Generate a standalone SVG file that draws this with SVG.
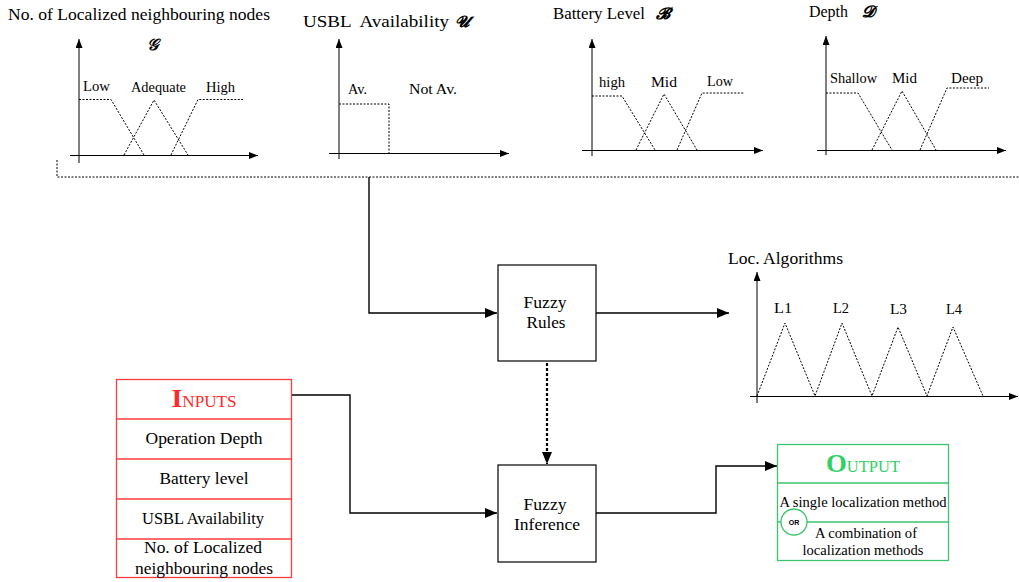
<svg xmlns="http://www.w3.org/2000/svg" width="1019" height="582" viewBox="0 0 1019 582" font-family="'Liberation Serif', 'DejaVu Serif', serif">
<defs>
<style>
text{font-family:'Liberation Serif','DejaVu Serif',serif}
.t{font-size:17px}
.l{font-size:14px}
.b{font-size:16px}
.o{font-size:14.5px}
.ax{stroke:#000;stroke-width:1;fill:none}
.dt{stroke:#000;stroke-width:1;fill:none;stroke-dasharray:2 1.5}
.cn{stroke:#000;stroke-width:1.4;fill:none}
.box{fill:#fff;stroke:#000;stroke-width:1.2}
.red{fill:#fff;stroke:#ff3b3b;stroke-width:1.3}
.grn{fill:#fff;stroke:#3cc46e;stroke-width:1.3}
.sc{font-style:italic;font-weight:bold;font-size:16px}
</style>
<marker id="ah" markerWidth="12" markerHeight="10" refX="12" refY="5" orient="auto" markerUnits="userSpaceOnUse"><path d="M0,0 L12,5 L0,10 z" fill="#000"/></marker>
<marker id="aa" markerWidth="9" markerHeight="7" refX="9" refY="3.5" orient="auto" markerUnits="userSpaceOnUse"><path d="M0,0 L9,3.5 L0,7 z" fill="#000"/></marker>
</defs>

<g id="chart-neighbours">
<text class="t" x="8" y="20" textLength="262" lengthAdjust="spacingAndGlyphs">No. of Localized neighbouring nodes</text>
<text class="sc" x="147" y="50">𝒢</text>
<line class="ax" x1="79" y1="163" x2="79" y2="39" marker-end="url(#aa)"/>
<line class="ax" x1="70" y1="155.5" x2="258" y2="155.5" marker-end="url(#aa)"/>
<text class="l" x="83" y="91" textLength="27" lengthAdjust="spacingAndGlyphs">Low</text>
<text class="l" x="131" y="92" textLength="55" lengthAdjust="spacingAndGlyphs">Adequate</text>
<text class="l" x="206" y="92" textLength="29" lengthAdjust="spacingAndGlyphs">High</text>
<polyline class="dt" points="79,99.5 111,99.5 144,155"/>
<polyline class="dt" points="124,155 154,100 188,155"/>
<polyline class="dt" points="171,155 198,99.5 243,99.5"/>
</g>

<g id="chart-usbl">
<text class="t" x="303" y="27" xml:space="preserve" textLength="146" lengthAdjust="spacingAndGlyphs">USBL  Availability</text>
<text class="sc" x="455" y="27">𝓤</text>
<line class="ax" x1="339" y1="159" x2="339" y2="39" marker-end="url(#aa)"/>
<line class="ax" x1="329" y1="153.5" x2="509" y2="153.5" marker-end="url(#aa)"/>
<text class="l" x="348" y="94" textLength="19" lengthAdjust="spacingAndGlyphs">Av.</text>
<text class="l" x="409" y="94" textLength="48" lengthAdjust="spacingAndGlyphs">Not Av.</text>
<polyline class="dt" points="339,104 389,104 389,153"/>
</g>

<g id="chart-battery">
<text class="t" x="553" y="19" textLength="92" lengthAdjust="spacingAndGlyphs">Battery Level</text>
<text class="sc" x="656" y="19">𝓑</text>
<line class="ax" x1="592" y1="156" x2="592" y2="39" marker-end="url(#aa)"/>
<line class="ax" x1="582" y1="150.5" x2="763" y2="150.5" marker-end="url(#aa)"/>
<text class="l" x="599" y="87" textLength="26" lengthAdjust="spacingAndGlyphs">high</text>
<text class="l" x="651" y="87" textLength="26" lengthAdjust="spacingAndGlyphs">Mid</text>
<text class="l" x="707" y="86" textLength="26" lengthAdjust="spacingAndGlyphs">Low</text>
<polyline class="dt" points="592,96 622,96 655,150"/>
<polyline class="dt" points="636,150 664,94 697,150"/>
<polyline class="dt" points="677,150 702,93 744,93"/>
</g>

<g id="chart-depth">
<text class="t" x="809" y="17" textLength="39" lengthAdjust="spacingAndGlyphs">Depth</text>
<text class="sc" x="862" y="17">𝓓</text>
<line class="ax" x1="826" y1="155" x2="826" y2="36" marker-end="url(#aa)"/>
<line class="ax" x1="817" y1="150.5" x2="1006" y2="150.5" marker-end="url(#aa)"/>
<text class="l" x="830" y="83" textLength="47" lengthAdjust="spacingAndGlyphs">Shallow</text>
<text class="l" x="892" y="83" textLength="25" lengthAdjust="spacingAndGlyphs">Mid</text>
<text class="l" x="951" y="83" textLength="32" lengthAdjust="spacingAndGlyphs">Deep</text>
<polyline class="dt" points="826,93 858,93 892,150"/>
<polyline class="dt" points="872,150 902,91 936,150"/>
<polyline class="dt" points="920,150 947,88 989,88"/>
</g>

<g id="inputs-frame">
<polyline class="dt" points="57,160 57,177 1019,177"/>
</g>

<g id="chart-loc">
<text class="t" x="728" y="264" textLength="115" lengthAdjust="spacingAndGlyphs">Loc. Algorithms</text>
<line class="ax" x1="757" y1="403" x2="757" y2="272" marker-end="url(#aa)"/>
<line class="ax" x1="750" y1="396.5" x2="1018" y2="396.5" marker-end="url(#aa)"/>
<text class="l" x="774" y="313" textLength="18" lengthAdjust="spacingAndGlyphs">L1</text>
<text class="l" x="833" y="313" textLength="16" lengthAdjust="spacingAndGlyphs">L2</text>
<text class="l" x="890" y="314" textLength="17" lengthAdjust="spacingAndGlyphs">L3</text>
<text class="l" x="946" y="314" textLength="16" lengthAdjust="spacingAndGlyphs">L4</text>
<polyline class="dt" points="757,396 785,323 815,396 842,323 872,396 898,327 927,396 953,327 983,396"/>
</g>

<g id="connectors">
<polyline class="cn" points="369,177 369,313 497,313" marker-end="url(#ah)"/>
<line class="cn" x1="596" y1="313" x2="729" y2="313" marker-end="url(#ah)"/>
<line x1="547" y1="363" x2="547" y2="464" stroke="#000" stroke-width="2.2" stroke-dasharray="3 2" marker-end="url(#ah)"/>
<polyline class="cn" points="292,395 350,395 350,513 497,513" marker-end="url(#ah)"/>
<polyline class="cn" points="596,513 716,513 716,466 777,466" marker-end="url(#ah)"/>
</g>

<g id="fuzzy-rules">
<rect class="box" x="498" y="265" width="98" height="96"/>
<text class="b" x="545" y="308" text-anchor="middle" textLength="43" lengthAdjust="spacingAndGlyphs">Fuzzy</text>
<text class="b" x="546" y="328" text-anchor="middle" textLength="39" lengthAdjust="spacingAndGlyphs">Rules</text>
</g>

<g id="fuzzy-inference">
<rect class="box" x="498" y="465" width="98" height="97"/>
<text class="b" x="545" y="510" text-anchor="middle" textLength="43" lengthAdjust="spacingAndGlyphs">Fuzzy</text>
<text class="b" x="547" y="530" text-anchor="middle" textLength="66" lengthAdjust="spacingAndGlyphs">Inference</text>
</g>

<g id="inputs">
<rect class="red" x="116.5" y="379.5" width="175" height="198"/>
<line class="red" x1="116.5" y1="419" x2="291.5" y2="419"/>
<line class="red" x1="116.5" y1="459" x2="291.5" y2="459"/>
<line class="red" x1="116.5" y1="499" x2="291.5" y2="499"/>
<line class="red" x1="116.5" y1="539" x2="291.5" y2="539"/>
<text x="204" y="407" text-anchor="middle" style="fill:#ff2a2a" textLength="65" lengthAdjust="spacingAndGlyphs"><tspan font-size="26" font-weight="bold">I</tspan><tspan font-size="16">NPUTS</tspan></text>
<text class="b" x="204" y="444" text-anchor="middle" textLength="117" lengthAdjust="spacingAndGlyphs">Operation Depth</text>
<text class="b" x="204" y="484" text-anchor="middle" textLength="89" lengthAdjust="spacingAndGlyphs">Battery level</text>
<text class="b" x="203" y="524" text-anchor="middle" textLength="122" lengthAdjust="spacingAndGlyphs">USBL Availability</text>
<text class="b" x="203" y="553" text-anchor="middle" textLength="118" lengthAdjust="spacingAndGlyphs">No. of Localized</text>
<text class="b" x="204" y="574" text-anchor="middle" textLength="138" lengthAdjust="spacingAndGlyphs">neighbouring nodes</text>
</g>

<g id="output">
<rect class="grn" x="777.5" y="444.5" width="171" height="116"/>
<line class="grn" x1="777.5" y1="483" x2="948.5" y2="483"/>
<line class="grn" x1="777.5" y1="522" x2="948.5" y2="522"/>
<text x="863" y="472" text-anchor="middle" style="fill:#2fd163" textLength="74" lengthAdjust="spacingAndGlyphs"><tspan font-size="26" font-weight="bold">O</tspan><tspan font-size="16">UTPUT</tspan></text>
<text class="o" x="863" y="507" text-anchor="middle" textLength="167" lengthAdjust="spacingAndGlyphs">A single localization method</text>
<circle cx="794" cy="522" r="13" fill="#fff" stroke="#3cc46e" stroke-width="1.3"/>
<text x="794" y="525" text-anchor="middle" font-size="7" font-weight="bold" style="font-family:'Liberation Sans','DejaVu Sans',sans-serif">OR</text>
<text class="o" x="866" y="538" text-anchor="middle" textLength="102" lengthAdjust="spacingAndGlyphs">A combination of</text>
<text class="o" x="863" y="555" text-anchor="middle" textLength="121" lengthAdjust="spacingAndGlyphs">localization methods</text>
</g>
</svg>
